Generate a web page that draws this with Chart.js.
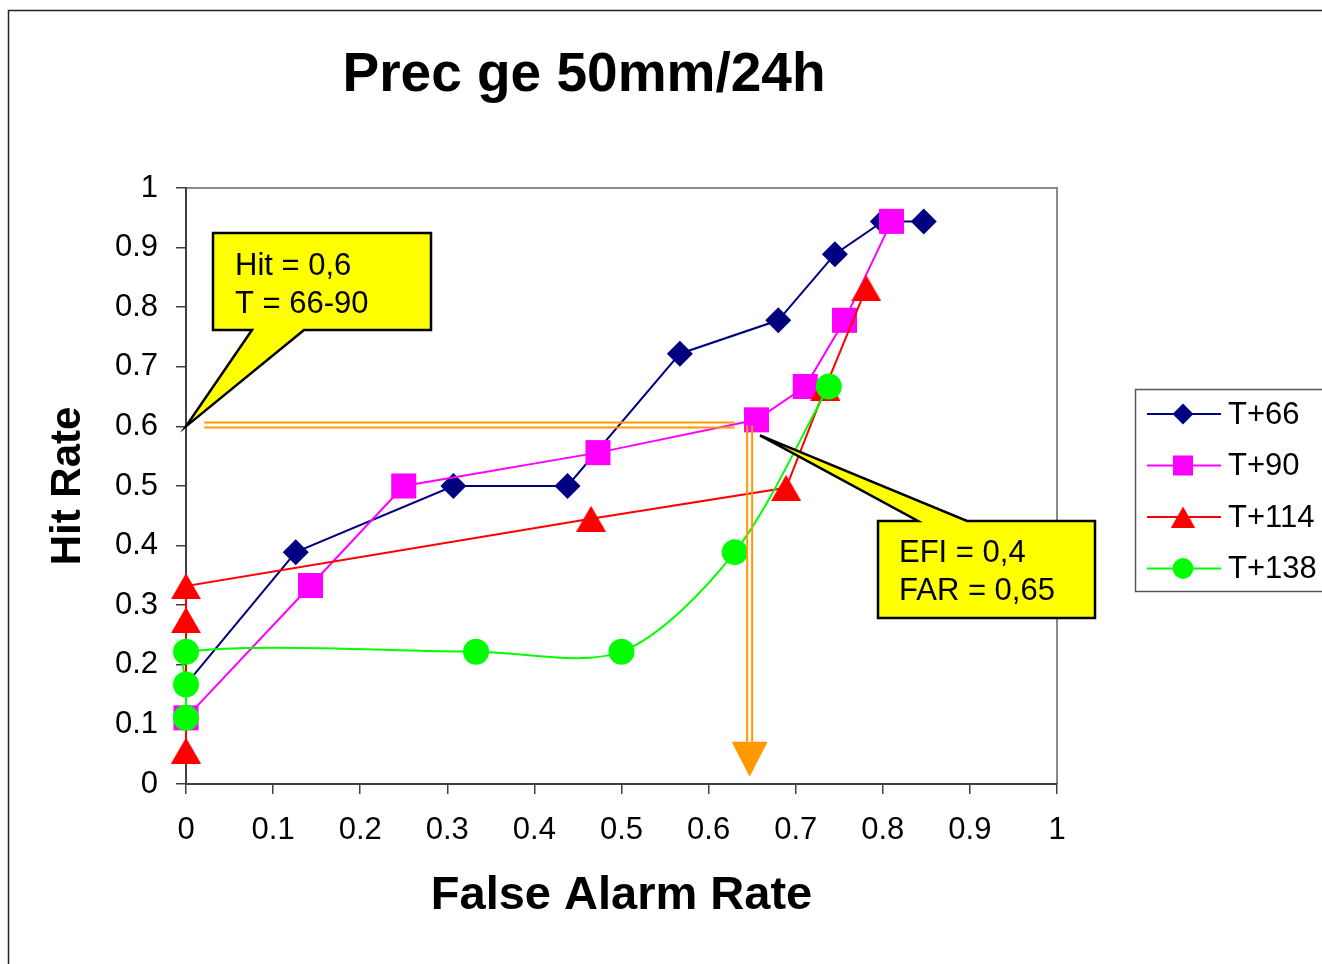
<!DOCTYPE html>
<html>
<head>
<meta charset="utf-8">
<title>Prec ge 50mm/24h</title>
<script src="https://cdn.jsdelivr.net/npm/chart.js@4.4.1/dist/chart.umd.min.js"></script>
<style>
  html, body { margin: 0; padding: 0; background: #fff; }
  #wrap { position: relative; width: 1322px; height: 964px; }
</style>
</head>
<body>
<div id="wrap"><canvas id="roc" width="1322" height="964"></canvas></div>
<script>
// ROC points per lead time: false alarm rate (x) vs hit rate (y)
const seriesNames = ['T+66', 'T+90', 'T+114', 'T+138'];

const far66  = [0, 0.126, 0.307, 0.438, 0.567, 0.680, 0.745, 0.800, 0.847];
const hit66  = [0.167, 0.389, 0.500, 0.500, 0.722, 0.778, 0.889, 0.944, 0.944];

const far90  = [0, 0.143, 0.250, 0.473, 0.655, 0.711, 0.756, 0.810];
const hit90  = [0.111, 0.333, 0.500, 0.556, 0.611, 0.667, 0.778, 0.944];

const far114 = [0, 0, 0, 0.465, 0.689, 0.734, 0.781];
const hit114 = [0.056, 0.275, 0.332, 0.445, 0.497, 0.665, 0.832];

const far138 = [0, 0, 0, 0.333, 0.500, 0.630, 0.738];
const hit138 = [0.111, 0.167, 0.222, 0.222, 0.222, 0.389, 0.667];

// EFI threshold read-off
const HIT_LEVEL = 0.6;
const FAR_LEVEL = 0.65;
const callout1 = ['Hit = 0,6', 'T = 66-90'];
const callout2 = ['EFI = 0,4', 'FAR = 0,65'];

const FONT = '"Liberation Sans", Arial, Helvetica, sans-serif';

// triangle marker as an image so the box (not the centroid) sits on the point
function triangleImage(w, h, color) {
  const c = document.createElement('canvas');
  c.width = w; c.height = h;
  const g = c.getContext('2d');
  g.fillStyle = color;
  g.beginPath();
  g.moveTo(w / 2, 0); g.lineTo(w, h); g.lineTo(0, h);
  g.closePath();
  g.fill();
  return c;
}
const triBig = triangleImage(30, 26, '#FF0000');
const triSmall = triangleImage(24, 21, '#FF0000');

const look = [
  { color: '#000080', shape: 'rectRot',  r: 13 },
  { color: '#FF00FF', shape: 'rect',     r: 17.7 },
  { color: '#FF0000', shape: triBig,     r: 15 },
  { color: '#00FF00', shape: 'circle',   r: 13 },
];

const pts = (xs, ys) => xs.map((x, i) => ({ x, y: ys[i] }));
const series = [pts(far66, hit66), pts(far90, hit90), pts(far114, hit114), pts(far138, hit138)];

function marker(ctx, shape, x, y, r, color) {
  ctx.save();
  if (typeof shape !== 'string') {
    ctx.drawImage(triSmall, x - triSmall.width / 2, y - triSmall.height / 2);
    ctx.restore();
    return;
  }
  ctx.fillStyle = color;
  ctx.beginPath();
  if (shape === 'rectRot') {
    ctx.moveTo(x - r, y); ctx.lineTo(x, y - r); ctx.lineTo(x + r, y); ctx.lineTo(x, y + r);
  } else if (shape === 'rect') {
    const h = r * Math.SQRT1_2;
    ctx.rect(x - h, y - h, 2 * h, 2 * h);
  } else {
    ctx.arc(x, y, r, 0, Math.PI * 2);
  }
  ctx.closePath();
  ctx.fill();
  ctx.restore();
}

function balloon(ctx, path, lines, tx, ty, gap) {
  ctx.save();
  ctx.beginPath();
  path.forEach(([x, y], i) => i ? ctx.lineTo(x, y) : ctx.moveTo(x, y));
  ctx.closePath();
  ctx.fillStyle = '#FFFF00';
  ctx.fill();
  ctx.lineWidth = 2.5;
  ctx.strokeStyle = '#000';
  ctx.lineJoin = 'miter';
  ctx.stroke();
  ctx.fillStyle = '#000';
  ctx.font = '31px ' + FONT;
  ctx.textBaseline = 'middle';
  ctx.textAlign = 'left';
  lines.forEach((t, i) => ctx.fillText(t, tx, ty + i * gap));
  ctx.restore();
}

const decorations = {
  id: 'decorations',
  beforeDraw(chart) {
    const ctx = chart.ctx;
    ctx.save();
    ctx.fillStyle = '#fff';
    ctx.fillRect(0, 0, chart.width, chart.height);
    // slide frame
    ctx.strokeStyle = '#222';
    ctx.lineWidth = 1.5;
    ctx.beginPath();
    ctx.moveTo(8.5, chart.height); ctx.lineTo(8.5, 10.5); ctx.lineTo(chart.width, 10.5);
    ctx.stroke();
    // plot area top/right edges
    const a = chart.chartArea;
    ctx.strokeStyle = '#8a8a8a';
    ctx.lineWidth = 2;
    ctx.beginPath();
    ctx.moveTo(a.left, a.top); ctx.lineTo(a.right, a.top); ctx.lineTo(a.right, a.bottom);
    ctx.stroke();
    // title
    ctx.fillStyle = '#000';
    ctx.font = 'bold 55px ' + FONT;
    ctx.textAlign = 'center';
    ctx.textBaseline = 'middle';
    ctx.fillText('Prec ge 50mm/24h', 584, 76);
    ctx.restore();
  },
  afterDatasetsDraw(chart) {
    const ctx = chart.ctx;
    const xs = chart.scales.x, ys = chart.scales.y;
    const hy = ys.getPixelForValue(HIT_LEVEL);
    const fx = xs.getPixelForValue(FAR_LEVEL);
    ctx.save();
    ctx.strokeStyle = '#FF9900';
    ctx.lineWidth = 2;
    // double horizontal line at the hit level
    const x0 = xs.getPixelForValue(0.021), x1 = xs.getPixelForValue(0.63);
    [hy - 4, hy + 1].forEach(y => {
      ctx.beginPath(); ctx.moveTo(x0, y); ctx.lineTo(x1, y); ctx.stroke();
    });
    // double vertical line down to the FAR axis
    const tipY = ys.getPixelForValue(0.012);
    const headY = tipY - 35;
    [fx - 5, fx].forEach(x => {
      ctx.beginPath(); ctx.moveTo(x, hy - 1); ctx.lineTo(x, headY); ctx.stroke();
    });
    ctx.fillStyle = '#FF9900';
    ctx.beginPath();
    ctx.moveTo(fx - 2.5 - 18, headY);
    ctx.lineTo(fx - 2.5 + 18, headY);
    ctx.lineTo(fx - 2.5, tipY);
    ctx.closePath();
    ctx.fill();
    ctx.restore();
  },
  afterDraw(chart) {
    const ctx = chart.ctx;
    const xs = chart.scales.x, ys = chart.scales.y;

    const t1x = xs.getPixelForValue(0), t1y = ys.getPixelForValue(HIT_LEVEL);
    balloon(ctx, [[213, 233], [431, 233], [431, 330], [304, 330], [t1x, t1y], [252, 330], [213, 330]],
      callout1, 235, 266, 38);

    const t2x = xs.getPixelForValue(0.659), t2y = ys.getPixelForValue(0.585);
    balloon(ctx, [[878, 521], [918, 521], [t2x, t2y], [967, 521], [1095, 521], [1095, 618], [878, 618]],
      callout2, 899, 553, 38);

    // legend
    ctx.save();
    ctx.strokeStyle = '#555';
    ctx.lineWidth = 1.5;
    ctx.strokeRect(1135.5, 389.5, 200, 202);
    ctx.font = '31px ' + FONT;
    ctx.textBaseline = 'middle';
    ctx.textAlign = 'left';
    seriesNames.forEach((name, i) => {
      const y = 414 + i * 51.5;
      ctx.strokeStyle = look[i].color;
      ctx.lineWidth = 2;
      ctx.beginPath(); ctx.moveTo(1147, y); ctx.lineTo(1221, y); ctx.stroke();
      marker(ctx, look[i].shape, 1183, y, look[i].r * 0.8, look[i].color);
      ctx.fillStyle = '#000';
      ctx.fillText(name, 1228, y + 1);
    });
    ctx.restore();
  }
};

const axisGrid = { drawOnChartArea: false, drawTicks: true, tickLength: 10, color: '#404040', lineWidth: 1.5 };
const tickFmt = v => (v === 0 || v === 1) ? String(v) : v.toFixed(1);

new Chart(document.getElementById('roc'), {
  type: 'scatter',
  data: {
    datasets: series.map((data, i) => ({
      label: seriesNames[i],
      data,
      showLine: true,
      borderColor: look[i].color,
      backgroundColor: look[i].color,
      borderWidth: 2,
      pointStyle: look[i].shape,
      pointRadius: look[i].r,
      pointBorderWidth: 0,
      pointHoverRadius: look[i].r,
      tension: i === 3 ? 0.3 : 0,
      capBezierPoints: false,
      clip: false,
      order: 4 - i,
    }))
  },
  options: {
    responsive: false,
    animation: false,
    layout: { padding: { top: 188, right: 265, bottom: 0, left: 0 } },
    plugins: { legend: { display: false }, title: { display: false }, tooltip: { enabled: false } },
    scales: {
      x: {
        type: 'linear', min: 0, max: 1,
        ticks: { stepSize: 0.1, color: '#000', font: { family: FONT, size: 31 }, padding: 18, callback: tickFmt },
        grid: axisGrid,
        border: { color: '#404040', width: 2 },
        title: { display: true, text: 'False Alarm Rate', color: '#000',
                 font: { family: FONT, size: 47, weight: 'bold' }, padding: { bottom: 40 } },
        afterFit: s => { s.height = 180; }
      },
      y: {
        type: 'linear', min: 0, max: 1,
        ticks: { stepSize: 0.1, color: '#000', font: { family: FONT, size: 31 }, padding: 18, callback: tickFmt },
        grid: axisGrid,
        border: { color: '#404040', width: 2 },
        title: { display: true, text: 'Hit Rate', color: '#000',
                 font: { family: FONT, size: 42, weight: 'bold' }, padding: { top: 43 } },
        afterFit: s => { s.width = 186; }
      }
    }
  },
  plugins: [decorations]
});
</script>
</body>
</html>
